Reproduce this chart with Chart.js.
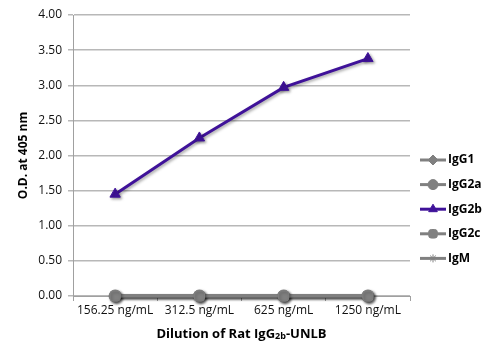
<!DOCTYPE html>
<html>
<head>
<meta charset="utf-8">
<script src="https://cdn.jsdelivr.net/npm/chart.js@4/dist/chart.umd.min.js"></script>
<style>
html,body{margin:0;padding:0;background:#fff;}
#wrap{width:500px;height:359px;position:relative;}
</style>
</head>
<body>
<div id="wrap"><canvas id="c" width="500" height="359"></canvas></div>
<script>
const categories = ["156.25 ng/mL", "312.5 ng/mL", "625 ng/mL", "1250 ng/mL"];
const seriesNames = ["IgG1", "IgG2a", "IgG2b", "IgG2c", "IgM"];
const IgG1 = [0, 0, 0, 0];
const IgG2a = [0, 0, 0, 0];
const IgG2b = [1.45, 2.25, 2.97, 3.38];
const IgG2c = [0, 0, 0, 0];
const IgM = [0, 0, 0, 0];
const yTicks = [0, 0.5, 1, 1.5, 2, 2.5, 3, 3.5, 4];

const GRAY = '#808080';
const PURPLE = '#3f1299';
const FONT = "'Open Sans', 'DejaVu Sans', sans-serif";

function ds(label, data, color, style, radius, order) {
  return {
    label, data,
    borderColor: color, backgroundColor: color,
    borderWidth: 3,
    pointStyle: style, pointRadius: radius, pointHoverRadius: radius,
    pointBorderColor: color, pointBackgroundColor: color, pointBorderWidth: 1,
    tension: 0, clip: false, order
  };
}

const datasets = [
  ds(seriesNames[0], IgG1, GRAY, 'rectRot', 6, 4),
  ds(seriesNames[1], IgG2a, GRAY, 'circle', 6, 3),
  ds(seriesNames[2], IgG2b, PURPLE, 'triangle', 6, 0),
  ds(seriesNames[3], IgG2c, GRAY, 'rectRounded', 6, 1),
  ds(seriesNames[4], IgM, GRAY, 'star', 5, 2)
];

const shadowPlugin = {
  id: 'shadow',
  beforeDatasetsDraw(chart) {
    const ctx = chart.ctx;
    ctx.save();
    ctx.shadowColor = 'rgba(0,0,0,0.35)';
    ctx.shadowBlur = 3;
    ctx.shadowOffsetX = 1.5;
    ctx.shadowOffsetY = 1.5;
  },
  afterDatasetsDraw(chart) { chart.ctx.restore(); }
};

function drawMarker(ctx, style, r, x, y, color) {
  const opts = {pointStyle: style, radius: r, borderWidth: 1, rotation: 0};
  ctx.save();
  ctx.fillStyle = color; ctx.strokeStyle = color; ctx.lineWidth = 1;
  Chart.helpers.drawPoint(ctx, opts, x, y);
  ctx.restore();
}

const legendPlugin = {
  id: 'customLegend',
  afterDraw(chart) {
    const ctx = chart.ctx;
    const x0 = 420, x1 = 446, y0 = 160, gap = 24.6;
    chart.data.datasets.forEach((d, i) => {
      const y = y0 + i * gap;
      ctx.save();
      ctx.strokeStyle = d.borderColor;
      ctx.lineWidth = 3;
      ctx.beginPath(); ctx.moveTo(x0, y); ctx.lineTo(x1, y); ctx.stroke();
      drawMarker(ctx, d.pointStyle, d.pointRadius - 1, (x0 + x1) / 2, y, d.borderColor);
      ctx.fillStyle = '#000';
      ctx.font = "bold 12px " + FONT;
      ctx.textBaseline = 'middle';
      ctx.textAlign = 'left';
      ctx.fillText(d.label, x1 + 2, y);
      ctx.restore();
    });
  }
};

const xTitlePlugin = {
  id: 'xTitle',
  afterDraw(chart) {
    const ctx = chart.ctx;
    const a = chart.chartArea;
    const cx = (a.left + a.right) / 2;
    const y = 333;
    const parts = [
      {t: 'Dilution of Rat IgG', f: "bold 13px " + FONT, dy: 0},
      {t: '2b', f: "bold 9px " + FONT, dy: 1},
      {t: '-UNLB', f: "bold 13px " + FONT, dy: 0}
    ];
    ctx.save();
    ctx.fillStyle = '#000';
    ctx.textBaseline = 'alphabetic';
    ctx.textAlign = 'left';
    let total = 0;
    parts.forEach(p => { ctx.font = p.f; p.w = ctx.measureText(p.t).width; total += p.w; });
    let x = cx - total / 2;
    parts.forEach(p => { ctx.font = p.f; ctx.fillText(p.t, x, y + 5 + p.dy); x += p.w; });
    ctx.restore();
  }
};

new Chart(document.getElementById('c'), {
  type: 'line',
  data: { labels: categories, datasets },
  plugins: [shadowPlugin, legendPlugin, xTitlePlugin],
  options: {
    responsive: false,
    animation: false,
    events: [],
    layout: { padding: { left: 16, right: 90, top: 15, bottom: 0 } },
    plugins: { legend: { display: false }, tooltip: { enabled: false } },
    scales: {
      x: {
        type: 'category',
        offset: true,
        grid: { offset: true, drawOnChartArea: false, drawTicks: true, tickLength: 5, color: '#a0a0a0', lineWidth: 1 },
        border: { display: true, color: '#a0a0a0', width: 1 },
        ticks: { color: '#111', font: { family: FONT, size: 12 }, padding: 2, maxRotation: 0, autoSkip: false },
        afterFit(scale) { scale.height = 63; }
      },
      y: {
        min: 0, max: 4,
        afterBuildTicks(scale) { scale.ticks = yTicks.map(v => ({value: v})); },
        grid: { color: '#b8b8b8', lineWidth: 1.5, drawTicks: true, tickLength: 5 },
        border: { display: true, color: '#a0a0a0', width: 1 },
        ticks: { color: '#111', font: { family: FONT, size: 12 }, padding: 6,
                 callback: v => Number(v).toFixed(2) },
        title: { display: true, text: 'O.D. at 405 nm', color: '#000',
                 font: { family: FONT, size: 12, weight: 'bold' }, padding: { top: 0, bottom: 4 } },
        afterFit(scale) { scale.width = 57; }
      }
    }
  }
});
</script>
</body>
</html>
